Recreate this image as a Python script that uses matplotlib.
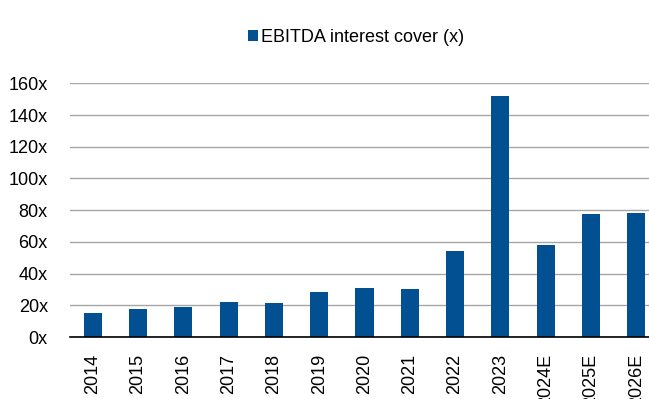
import matplotlib.pyplot as plt
import numpy as np

plt.rcParams['font.family'] = ['Liberation Sans', 'DejaVu Sans']

years = ['2014', '2015', '2016', '2017', '2018', '2019', '2020',
         '2021', '2022', '2023', '2024E', '2025E', '2026E']
cover = [15.4, 17.5, 18.8, 21.8, 21.3, 28.3, 31.1,
         30.4, 54.1, 151.9, 57.8, 77.4, 78.2]
yticks = [0, 20, 40, 60, 80, 100, 120, 140, 160]

fig = plt.figure(figsize=(6.49, 3.99), dpi=100)
ax = fig.add_axes([70/649, (399-337)/399, 1 - 70/649, (337-83.3)/399])

x = np.arange(len(years))
bars = ax.bar(x, cover, width=0.4, color='#024f92', zorder=3,
              label='EBITDA interest cover (x)')

ax.set_ylim(0, 160)
ax.set_xlim(-0.5, 12.28)
ax.set_yticks(yticks)
ax.set_yticklabels([f'{v}x' for v in yticks], fontsize=13)
ax.set_xticks(x)
ax.set_xticklabels(years, rotation=90, fontsize=13)
ax.tick_params(axis='both', length=0)
ax.tick_params(axis='y', pad=16)
ax.tick_params(axis='x', pad=12)

ax.grid(axis='y', color='#a6a6a6', linewidth=1.0, zorder=0)
for s in ['top', 'right', 'left']:
    ax.spines[s].set_visible(False)
ax.spines['bottom'].set_color('black')
ax.spines['bottom'].set_linewidth(1.2)
ax.spines['bottom'].set_zorder(4)

fig.legend(handles=[bars], labels=['EBITDA interest cover (x)'],
           loc='center', bbox_to_anchor=(356/649, 1 - 37/399),
           frameon=False, fontsize=13, handlelength=0.55, handleheight=0.55,
           handletextpad=0.15)

fig.savefig('out.png', dpi=100)
